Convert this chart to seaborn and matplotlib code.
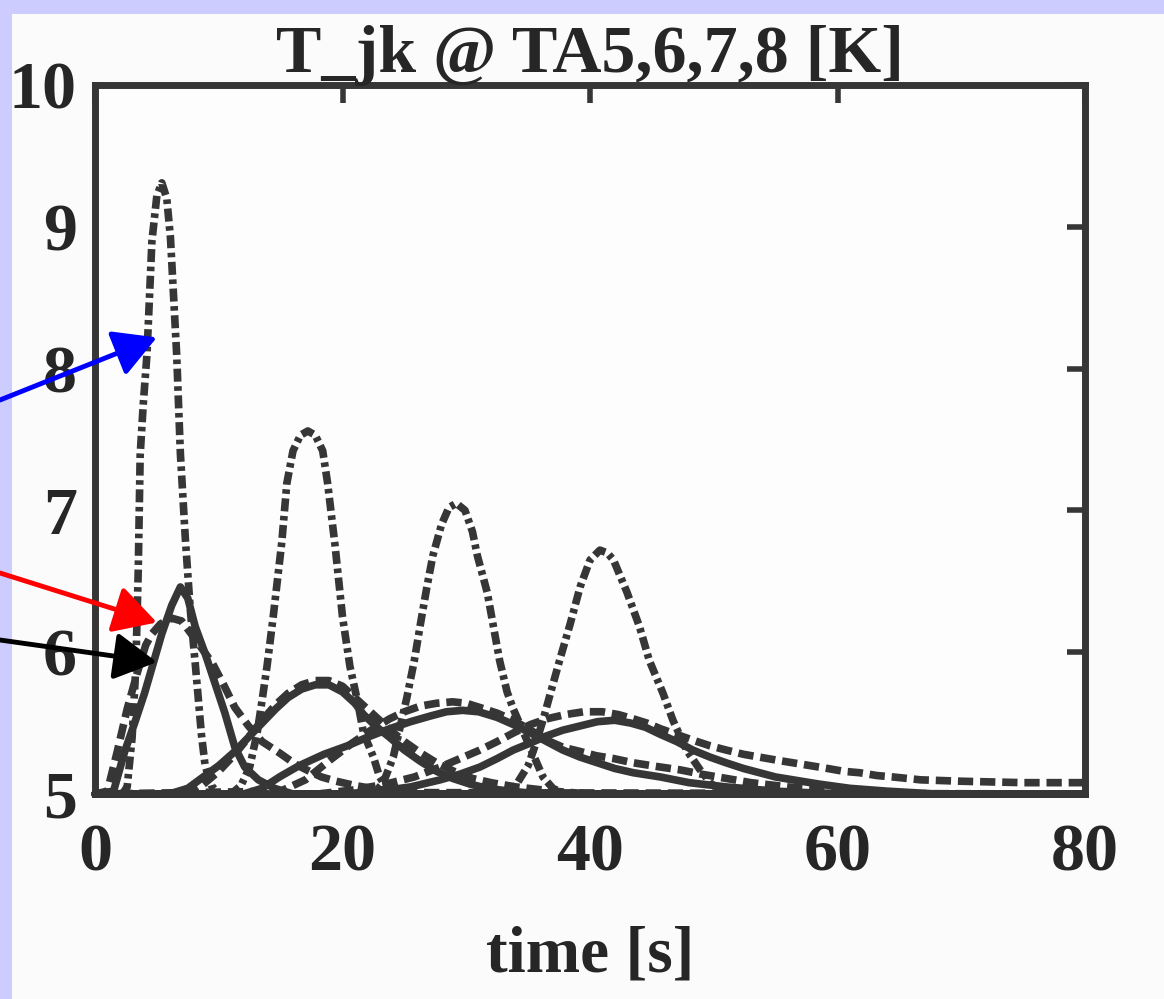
import numpy as np
import pandas as pd
import seaborn as sns
import matplotlib.pyplot as plt
from matplotlib.patches import Rectangle

sns.set_theme(style="white")
plt.rcParams['font.family'] = ['Liberation Serif', 'DejaVu Serif']
plt.rcParams['font.weight'] = 'bold'

#### traces: time [s] and T [K] for TA5..TA8
# solid
t_s5 = [0, 1.5, 2.4, 3.2, 4.0, 4.7, 5.4, 6.2, 6.9, 7.5, 8.1, 8.9, 9.7, 10.5, 11.3, 12.1, 13.2, 14.5, 16, 80]
v_s5 = [5.0, 5.02, 5.3, 5.5, 5.71, 5.92, 6.13, 6.33, 6.46, 6.38, 6.18, 5.99, 5.78, 5.57, 5.33, 5.19, 5.1, 5.04, 5.0, 5.0]
t_s6 = [0, 6, 7.5, 8.9, 10, 11.3, 12.4, 13.5, 14.6, 15.6, 16.7, 17.8, 18.9, 20, 21, 21.7, 22.8, 23.8, 25, 26.3, 27.6, 28.9, 30.3, 31.7, 33.5, 36, 80]
v_s6 = [5.0, 5.0, 5.04, 5.13, 5.2, 5.3, 5.4, 5.5, 5.6, 5.68, 5.74, 5.77, 5.77, 5.72, 5.64, 5.56, 5.47, 5.4, 5.31, 5.23, 5.16, 5.11, 5.07, 5.04, 5.02, 5.0, 5.0]
t_s7 = [0, 12, 13.5, 14.9, 16.5, 18.5, 20.4, 22, 23.8, 25.5, 27.1, 28.4, 29.7, 31, 32.5, 33.8, 35.2, 36.5, 37.8, 39.2, 40.6, 42, 43.5, 45.7, 48, 51, 55, 60, 80]
v_s7 = [5.0, 5.0, 5.04, 5.12, 5.2, 5.28, 5.34, 5.4, 5.46, 5.51, 5.55, 5.58, 5.59, 5.58, 5.54, 5.49, 5.43, 5.37, 5.31, 5.26, 5.22, 5.18, 5.15, 5.12, 5.08, 5.05, 5.02, 5.0, 5.0]
t_s8 = [0, 20, 23, 25.5, 27.9, 29.5, 31.1, 32.5, 33.8, 35.2, 36.5, 37.8, 39.2, 40.6, 42, 43.3, 44.5, 45.7, 47, 48.3, 49.7, 51, 52.4, 53.7, 55, 56.4, 58.5, 61, 64, 68, 80]
v_s8 = [5.0, 5.0, 5.02, 5.05, 5.1, 5.14, 5.19, 5.25, 5.31, 5.36, 5.41, 5.45, 5.48, 5.51, 5.52, 5.5, 5.47, 5.42, 5.37, 5.31, 5.26, 5.22, 5.18, 5.15, 5.12, 5.1, 5.07, 5.04, 5.02, 5.0, 5.0]
# dashed
t_d5 = [0, 1.0, 1.8, 2.6, 3.4, 4.1, 4.6, 5.3, 6.2, 7.0, 8.2, 9.5, 10.4, 11.3, 12.4, 13.5, 14.9, 16.2, 17.1, 18.3, 19.5, 21, 23, 26, 80]
v_d5 = [5.0, 5.02, 5.3, 5.6, 5.85, 6.05, 6.13, 6.2, 6.24, 6.22, 6.08, 5.92, 5.77, 5.61, 5.48, 5.37, 5.29, 5.21, 5.17, 5.12, 5.09, 5.06, 5.03, 5.01, 5.0]
t_d6 = [0, 7, 8.5, 10, 11.3, 12.4, 13.5, 14.6, 15.6, 16.7, 17.8, 18.9, 20, 21, 22, 23, 24, 25, 26.3, 27.6, 29, 30.5, 32, 34, 37, 40, 80]
v_d6 = [5.0, 5.0, 5.05, 5.16, 5.28, 5.4, 5.52, 5.63, 5.71, 5.77, 5.8, 5.8, 5.76, 5.68, 5.6, 5.52, 5.44, 5.37, 5.29, 5.22, 5.16, 5.11, 5.08, 5.05, 5.02, 5.0, 5.0]
t_d7 = [0, 15, 17, 19, 20.8, 22.3, 23.8, 25, 26.3, 27.6, 28.9, 30, 31.1, 32.5, 33.8, 35.2, 36.5, 37.8, 39.2, 40.5, 41.9, 43.5, 45.7, 47.3, 49, 51, 53, 56, 60, 65, 80]
v_d7 = [5.0, 5.02, 5.1, 5.24, 5.36, 5.45, 5.53, 5.58, 5.62, 5.64, 5.65, 5.64, 5.61, 5.57, 5.52, 5.45, 5.38, 5.33, 5.3, 5.27, 5.25, 5.22, 5.19, 5.17, 5.14, 5.11, 5.08, 5.05, 5.02, 5.0, 5.0]
t_d8 = [0, 18, 21, 23.5, 25.8, 27.9, 29.5, 31.1, 32.5, 33.8, 35.2, 36.5, 38, 39.5, 41, 42.3, 43.5, 44.6, 45.7, 47, 48.3, 49.7, 51, 52.4, 53.7, 55, 56.4, 57.8, 59.2, 60.5, 61.8, 63.2, 64.5, 66.7, 70, 75, 80]
v_d8 = [5.0, 5.0, 5.03, 5.07, 5.12, 5.19, 5.25, 5.31, 5.37, 5.43, 5.49, 5.53, 5.56, 5.58, 5.58, 5.56, 5.53, 5.5, 5.46, 5.42, 5.38, 5.34, 5.31, 5.28, 5.26, 5.24, 5.22, 5.2, 5.18, 5.16, 5.15, 5.13, 5.12, 5.1, 5.09, 5.08, 5.08]
# dash-dot
t_c5 = [0, 2.2, 2.6, 3.0, 3.3, 3.5, 3.65, 3.9, 4.2, 4.6, 5.0, 5.4, 5.8, 6.1, 6.6, 6.9, 7.3, 7.7, 8.1, 8.6, 8.9, 9.4, 10, 80]
v_c5 = [5.0, 5.0, 5.05, 5.4, 5.9, 6.6, 7.39, 7.75, 8.1, 8.9, 9.22, 9.31, 9.2, 8.92, 8.1, 7.4, 6.8, 6.3, 5.92, 5.42, 5.2, 5.06, 5.0, 5.0]
t_c6 = [0, 11, 11.8, 12.5, 13.1, 13.5, 13.9, 14.4, 15.1, 15.5, 16.0, 16.6, 17.2, 17.8, 18.4, 18.8, 19.4, 20.0, 20.6, 21.2, 21.7, 22.5, 23.0, 23.6, 24.5, 80]
v_c6 = [5.0, 5.0, 5.06, 5.19, 5.43, 5.66, 5.9, 6.25, 6.78, 7.19, 7.42, 7.53, 7.56, 7.53, 7.42, 7.19, 6.75, 6.25, 5.9, 5.66, 5.43, 5.26, 5.12, 5.04, 5.0, 5.0]
t_c7 = [0, 22.5, 23.3, 24.1, 24.6, 25.2, 25.8, 26.3, 26.8, 27.3, 28.0, 28.6, 29.2, 29.9, 30.5, 30.9, 31.7, 32.2, 32.7, 33.3, 33.8, 34.9, 35.7, 36.2, 37.0, 38.0, 80]
v_c7 = [5.0, 5.0, 5.08, 5.26, 5.45, 5.68, 5.94, 6.2, 6.45, 6.68, 6.9, 7.02, 7.05, 7.0, 6.85, 6.68, 6.42, 6.18, 5.94, 5.72, 5.6, 5.38, 5.22, 5.12, 5.04, 5.0, 5.0]
t_c8 = [0, 33, 34, 35, 35.6, 36.2, 36.8, 37.6, 38.4, 39.2, 40.0, 40.8, 41.4, 41.9, 43.0, 44.0, 44.8, 45.9, 46.7, 47.8, 48.9, 49.8, 51, 52, 80]
v_c8 = [5.0, 5.0, 5.06, 5.2, 5.35, 5.52, 5.71, 5.96, 6.2, 6.46, 6.65, 6.72, 6.7, 6.65, 6.42, 6.18, 5.94, 5.71, 5.52, 5.31, 5.17, 5.07, 5.02, 5.0, 5.0]

xticks = [0, 20, 40, 60, 80]
yticks = [5, 6, 7, 8, 9, 10]

ink = '#363636'
styles = {'solid': dict(lw=5.5, linestyle='-'),
          'dashed': dict(lw=5.5, linestyle=(0, (2.0, 0.9))),
          'dashdot': dict(lw=5.5, linestyle=(0, (1.7, 0.6, 0.6, 0.6)))}
curves = [('dashdot', t_c5, v_c5), ('dashdot', t_c6, v_c6), ('dashdot', t_c7, v_c7), ('dashdot', t_c8, v_c8),
          ('dashed', t_d5, v_d5), ('dashed', t_d6, v_d6), ('dashed', t_d7, v_d7), ('dashed', t_d8, v_d8),
          ('solid', t_s5, v_s5), ('solid', t_s6, v_s6), ('solid', t_s7, v_s7), ('solid', t_s8, v_s8)]

fig = plt.figure(figsize=(11.64, 9.99), dpi=100, facecolor='#ccccff')
fig.patches.append(Rectangle((12 / 1164, 0), 1, 1 - 14 / 999, transform=fig.transFigure,
                             facecolor='#fbfbfb', edgecolor='none', zorder=-10))
ax = fig.add_axes([95 / 1164, 1 - 794 / 999, 990 / 1164, (794 - 85) / 999])
ax.set_facecolor('#fdfdfd')

for kind, t, v in curves:
    sns.lineplot(x=t, y=v, ax=ax, color=ink, legend=False, clip_on=False, zorder=3, **styles[kind])

ax.set_xlim(0, 80)
ax.set_ylim(5, 10)
ax.set_xticks(xticks)
ax.set_yticks(yticks)
ax.tick_params(direction='in', length=13, width=4, top=True, right=True, color=ink,
               labelsize=49, labelcolor='#262626')
ax.tick_params(axis='x', pad=21)
ax.tick_params(axis='y', pad=13)
for s in ax.spines.values():
    s.set_linewidth(5)
    s.set_color(ink)
    s.set_zorder(2.5)

ax.set_title('T_jk @ TA5,6,7,8 [K]', fontsize=49, fontweight='bold', color='#262626', pad=9)
ax.set_xlabel('time [s]', fontsize=47, fontweight='bold', color='#262626', labelpad=30)
ax.set_ylabel('')

# pointer arrows from the left margin
arrows = [('#0000ff', (5.0, 8.22), 1 - 400 / 999),
          ('#ff0000', (5.0, 6.21), 1 - 573 / 999),
          ('#000000', (5.0, 5.93), 1 - 640 / 999)]
for col, tip, ty in arrows:
    ax.annotate('', xy=tip, xycoords='data', xytext=(0, ty), textcoords='figure fraction',
                annotation_clip=False, zorder=10,
                arrowprops=dict(arrowstyle='-|>,head_length=0.45,head_width=0.25', mutation_scale=58,
                                lw=3.5, color=col, shrinkA=0, shrinkB=0))

fig.savefig('out.png', dpi=100)
